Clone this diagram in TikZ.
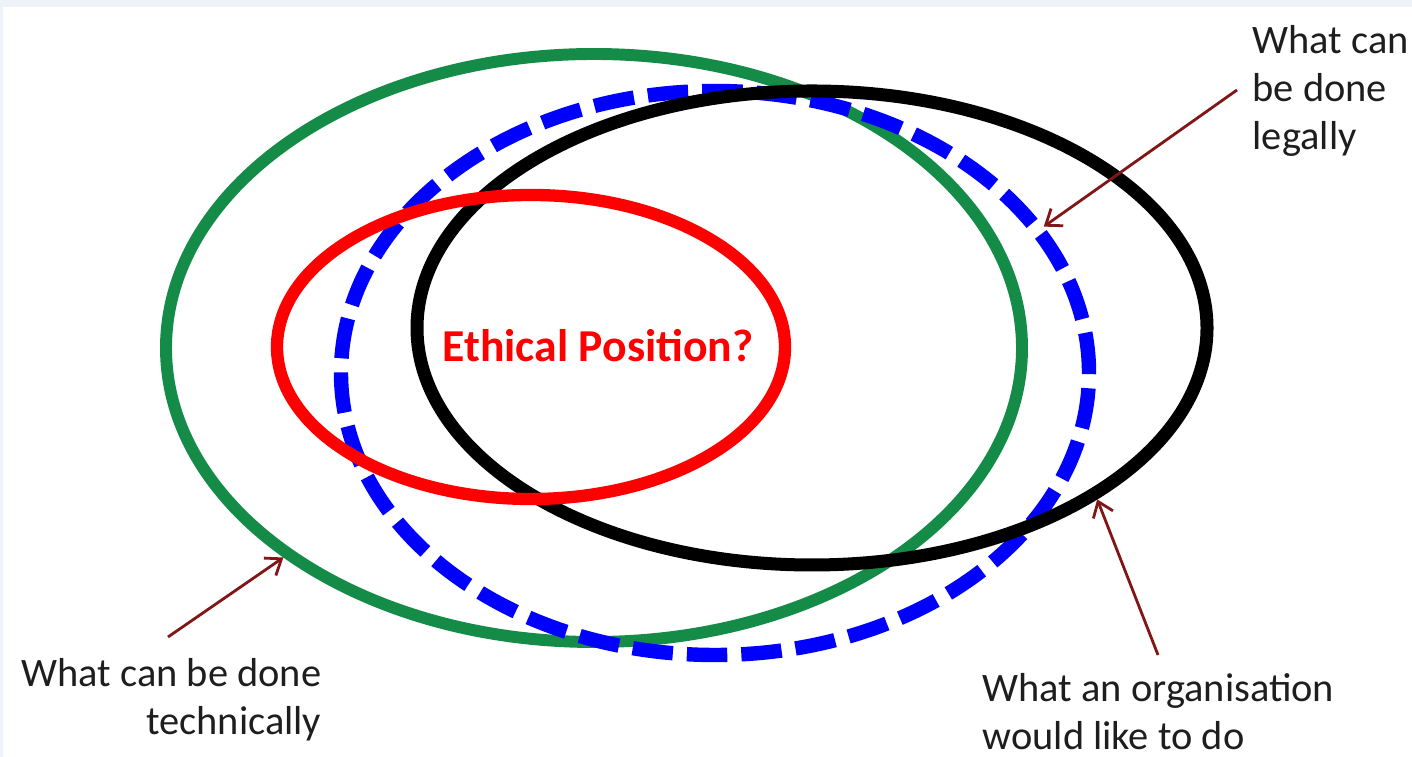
\documentclass[tikz,border=0pt]{standalone}
\usepackage{fontspec}
\setmainfont{Carlito}
\usetikzlibrary{shapes.geometric,arrows.meta}

\definecolor{techgreen}{RGB}{20,140,72}
\definecolor{pointred}{RGB}{130,22,22}
\definecolor{bandblue}{RGB}{238,243,250}
\definecolor{labelgray}{RGB}{30,30,30}

\begin{document}
\begin{tikzpicture}[
    ring/.style={ellipse,draw,inner sep=0pt},
    label/.style={inner sep=0pt,text=labelgray,font=\fontsize{11.5}{13.6}\selectfont},
    pointer/.style={draw=pointred,line width=0.8pt,-{Straight Barb[length=4pt,width=6pt]}}]
    \useasboundingbox (0,0) rectangle (14.12,7.57);
    % slide frame
    \fill[bandblue] (0,7.50) rectangle (14.12,7.57);
    \fill[bandblue] (0,0) rectangle (0.03,7.57);
    % the four sets
    \node[ring,draw=techgreen,line width=3.4pt,minimum width=8.56cm,minimum height=5.88cm] (tech) at (5.94,4.09) {};
    \node[ring,draw=blue,line width=4.1pt,dash pattern=on 11.5pt off 4pt,minimum width=7.48cm,minimum height=5.64cm] (org) at (7.15,3.84) {};
    \node[ring,draw=black,line width=3.7pt,minimum width=7.90cm,minimum height=4.74cm] (legal) at (8.12,4.29) {};
    \node[ring,draw=red,line width=3.5pt,minimum width=5.08cm,minimum height=3.04cm] (ethic) at (5.31,4.10) {};
    \node[anchor=base,text=red,font=\fontsize{13}{15}\selectfont\bfseries] (question) at (5.98,3.95) {Ethical Position?};
    % labels
    \node[label,anchor=north west,align=left] (legaltxt) at (12.52,7.32) {What can\\be done\\legally};
    \node[label,anchor=north east,align=right] (techtxt) at (3.22,0.99) {What can be done\\technically};
    \node[label,anchor=north west,align=left] (orgtxt) at (9.82,0.84) {What an organisation\\would like to do};
    % arrows
    \coordinate (legaltail) at (12.37,6.67);
    \coordinate (techtail) at (1.68,1.20);
    \coordinate (orgtail) at (11.58,1.02);
    \draw[pointer] (legaltail) -- (org.24);
    \draw[pointer] (techtail) -- (tech.214);
    \draw[pointer] (orgtail) -- (legal.-31);
\end{tikzpicture}
\end{document}
